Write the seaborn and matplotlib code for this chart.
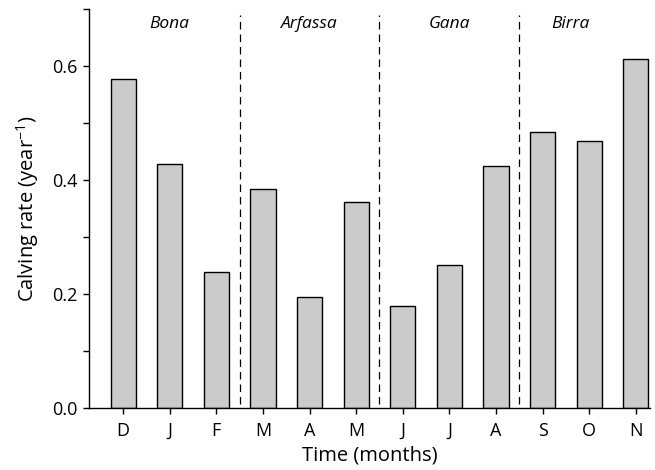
import matplotlib
matplotlib.use("Agg")
import matplotlib.pyplot as plt
from matplotlib.ticker import MultipleLocator
import seaborn as sns
import pandas as pd

months = ["D", "J", "F", "M", "A", "M", "J", "J", "A", "S", "O", "N"]
rates = [0.577, 0.428, 0.239, 0.384, 0.195, 0.361, 0.179, 0.251, 0.425, 0.484, 0.468, 0.612]
regions = ["Bona", "Arfassa", "Gana", "Birra"]
region_label_pos = [1.0, 4.0, 7.0, 9.6]
boundaries = [2.5, 5.5, 8.5]

sns.set_theme(style="ticks")
plt.rcParams["font.family"] = ["Open Sans", "DejaVu Sans"]
plt.rcParams["mathtext.fontset"] = "custom"
plt.rcParams["mathtext.rm"] = "Open Sans"

df = pd.DataFrame({"key": [f"{m}{i}" for i, m in enumerate(months)], "rate": rates})

fig = plt.figure(figsize=(6.55, 4.7), dpi=100)
ax = fig.add_axes([0.136, 0.132, 0.856, 0.849])
sns.barplot(data=df, x="key", y="rate", order=list(df["key"]), color="#cbcbcb",
            saturation=1, width=0.54, edgecolor="black", linewidth=1.0, ax=ax)

ax.set_xlim(-0.73, 11.3)
ax.set_ylim(0, 0.7)
ax.set_xticks(range(len(months)))
ax.set_xticklabels(months, fontsize=13, color="black")
ax.yaxis.set_major_locator(MultipleLocator(0.2))
ax.yaxis.set_minor_locator(MultipleLocator(0.1))
ax.set_yticklabels([f"{v:.1f}" for v in ax.get_yticks()], fontsize=13, color="black")
ax.tick_params(axis="x", which="major", direction="out", length=4, width=1, color="black", pad=6)
ax.tick_params(axis="y", which="major", direction="out", length=4, width=1, color="black", pad=4)
ax.tick_params(axis="y", which="minor", direction="out", length=4, width=1, color="black")
ax.set_xlabel("Time (months)", fontsize=14.5, labelpad=4, color="black")
ax.set_ylabel("Calving rate (year$^{\\mathrm{-1}}$)", fontsize=14.5, labelpad=8, color="black")

for b in boundaries:
    ax.axvline(b, ymin=0.01, ymax=0.985, color="black", linestyle=(0, (6, 4)), linewidth=0.9)
for name, p in zip(regions, region_label_pos):
    ax.text(p, 0.674, name, ha="center", va="center", fontsize=12.5, style="italic", color="black")

sns.despine(ax=ax, top=True, right=True)
for s in ["left", "bottom"]:
    ax.spines[s].set_color("black")
    ax.spines[s].set_linewidth(1.0)

fig.savefig("out.png", dpi=100)
